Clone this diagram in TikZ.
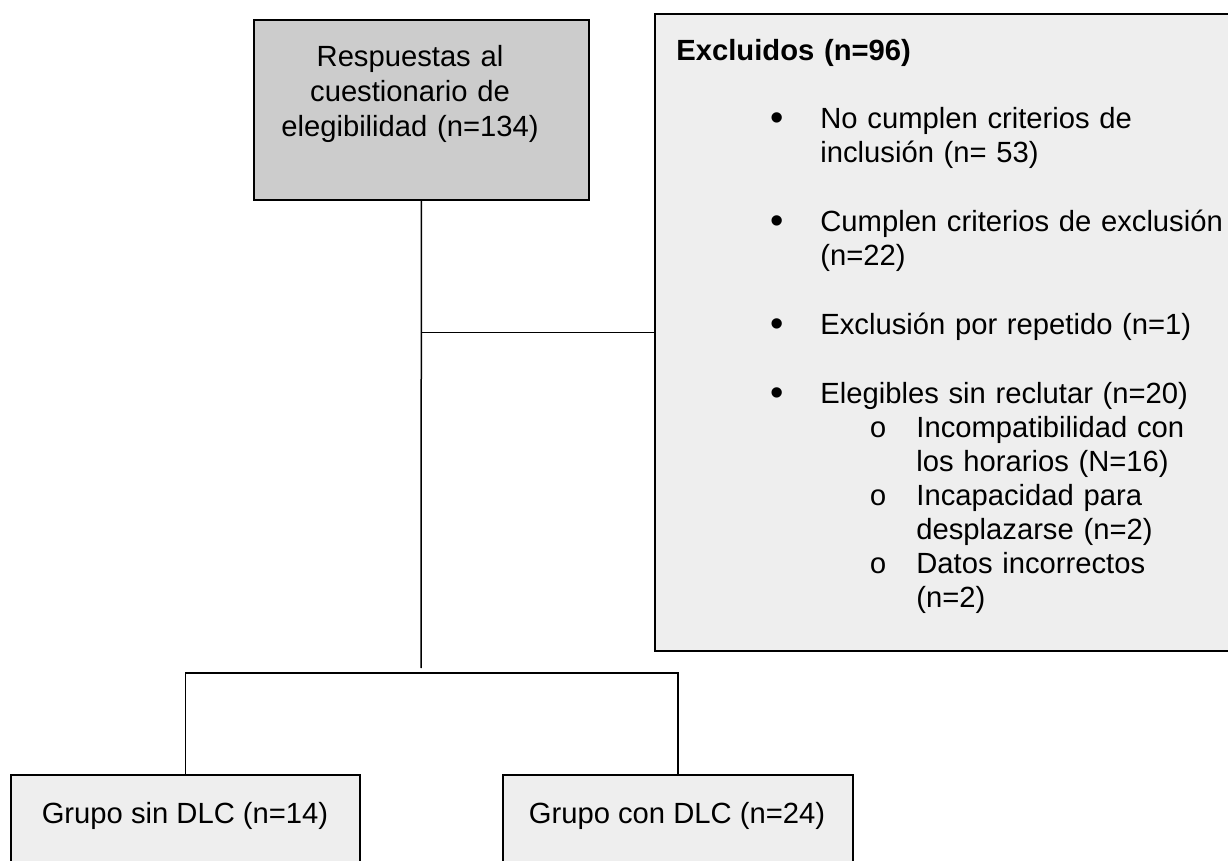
\documentclass[tikz,border=0pt]{standalone}
\usepackage{fontspec}
\setmainfont{Liberation Sans}
\setmonofont{Liberation Mono}
\definecolor{boxgray}{HTML}{CCCCCC}
\definecolor{boxlight}{HTML}{EEEEEE}
\newcommand{\bul}{\hspace*{47pt}\makebox[25pt][l]{\raisebox{-0.9pt}{\fontsize{19pt}{17pt}\selectfont •}}}
\newcommand{\ind}{\hspace*{72pt}}
\newcommand{\subbul}{\hspace*{96.5pt}\makebox[23.5pt][l]{\texttt{o}}}
\newcommand{\subind}{\hspace*{120pt}}
\begin{document}
\begin{tikzpicture}[x=0.5pt,y=-0.5pt,
  box/.style={draw,line width=0.9pt,anchor=north west,inner sep=0pt},
  txt/.style={font=\fontsize{14.6pt}{17pt}\selectfont,inner sep=0pt},
  link/.style={line width=0.75pt}]
  \useasboundingbox (0,0) rectangle (1228,861);
  \node[box,fill=boxgray,minimum width=167.5pt,minimum height=90pt] (top) at (253,19) {};
  \node[box,fill=boxlight,minimum width=300pt,minimum height=318.5pt] (excl) at (654,13) {};
  \node[box,fill=boxlight,minimum width=174.5pt,minimum height=60pt] (sin) at (10,774) {};
  \node[box,fill=boxlight,minimum width=175pt,minimum height=60pt] (con) at (502,774) {};
  \node[txt,font=\fontsize{14.6pt}{17.5pt}\selectfont,text width=150pt,align=center,anchor=base] (toptxt) at (410,67)
    {Respuestas al\\cuestionario de\\elegibilidad (n=134)};
  \node[txt,text width=280pt,align=left,anchor=base west] (excltxt) at (676,61)
    {\textbf{Excluidos (n=96)}\\[17pt]
     \bul No cumplen criterios de\\
     \ind inclusión (n= 53)\\[17.5pt]
     \bul Cumplen criterios de exclusión\\
     \ind (n=22)\\[17.5pt]
     \bul Exclusión por repetido (n=1)\\[17.5pt]
     \bul Elegibles sin reclutar (n=20)\\
     \subbul Incompatibilidad con\\
     \subind los horarios (N=16)\\
     \subbul Incapacidad para\\
     \subind desplazarse (n=2)\\
     \subbul Datos incorrectos\\
     \subind (n=2)};
  \node[txt,anchor=base] (sintxt) at (185,823) {Grupo sin DLC (n=14)};
  \node[txt,anchor=base] (contxt) at (677,823) {Grupo con DLC (n=24)};
  \coordinate (fork) at (421,668);
  \coordinate (bar) at (0,673);
  \draw[link] (top.south) -- (fork);
  \draw[link] (top.south |- excl.west) -- (excl.west);
  \draw[link] (sin.north) -- (sin.north |- bar) -- (con.north |- bar) -- (con.north);
\end{tikzpicture}
\end{document}
